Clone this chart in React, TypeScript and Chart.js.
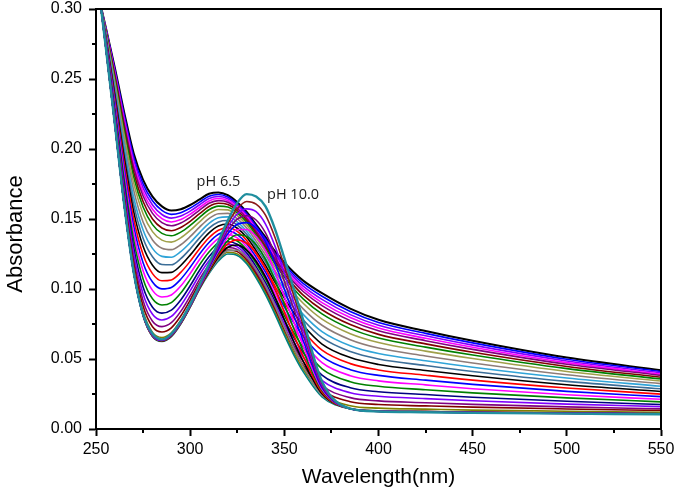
import React, { useEffect, useRef } from 'react';
import { Chart, registerables } from 'chart.js';

Chart.register(...registerables);

// Wavelength grid (nm)
const WAVELENGTH = [250, 255, 260, 265, 270, 275, 280, 285, 290, 295, 300, 305, 310, 315, 320, 325, 330, 335, 340, 345, 350, 355, 360, 370, 385, 400, 425, 450, 500, 550];

// Absorbance spectra, from pH 6.5 (first) to pH 10.0 (last)
const pH65 = [0.317, 0.288, 0.258, 0.226, 0.197, 0.178, 0.166, 0.159, 0.156, 0.157, 0.160, 0.164, 0.168, 0.169, 0.167, 0.162, 0.155, 0.146, 0.137, 0.127, 0.119, 0.112, 0.106, 0.097, 0.086, 0.078, 0.070, 0.063, 0.051, 0.042];
const s01 = [0.3174, 0.2876, 0.2568, 0.224, 0.1944, 0.1751, 0.163, 0.1561, 0.1533, 0.1545, 0.1578, 0.1621, 0.1663, 0.1675, 0.1657, 0.1609, 0.1539, 0.1449, 0.1358, 0.1256, 0.1174, 0.1102, 0.104, 0.0948, 0.0839, 0.076, 0.0683, 0.0615, 0.0498, 0.0411];
const s02 = [0.3178, 0.2872, 0.2556, 0.222, 0.1919, 0.1722, 0.160, 0.1532, 0.1506, 0.1521, 0.1556, 0.1602, 0.1646, 0.1661, 0.1645, 0.1597, 0.1528, 0.1437, 0.1345, 0.1243, 0.1159, 0.1085, 0.1021, 0.0926, 0.0817, 0.0741, 0.0666, 0.0599, 0.0486, 0.0401];
const s03 = [0.3182, 0.2868, 0.2544, 0.2201, 0.1893, 0.1693, 0.157, 0.1503, 0.1479, 0.1496, 0.1534, 0.1582, 0.1629, 0.1646, 0.1632, 0.1586, 0.1517, 0.1426, 0.1333, 0.1229, 0.1143, 0.1067, 0.1001, 0.0903, 0.0796, 0.0721, 0.0648, 0.0584, 0.0474, 0.0392];
const s04 = [0.3186, 0.2864, 0.2532, 0.2181, 0.1868, 0.1664, 0.154, 0.1474, 0.1452, 0.1472, 0.1512, 0.1563, 0.1612, 0.1631, 0.162, 0.1574, 0.1506, 0.1414, 0.1321, 0.1216, 0.1128, 0.1049, 0.0982, 0.0881, 0.0774, 0.0702, 0.0631, 0.0569, 0.0463, 0.0383];
const s05 = [0.3191, 0.2859, 0.2516, 0.2154, 0.1834, 0.1625, 0.150, 0.1436, 0.1416, 0.1439, 0.1483, 0.1538, 0.1589, 0.1612, 0.1603, 0.1559, 0.1491, 0.1399, 0.1304, 0.1198, 0.1107, 0.1026, 0.0956, 0.0852, 0.0746, 0.0676, 0.0608, 0.0548, 0.0447, 0.037];
const s06 = [0.3196, 0.2854, 0.250, 0.2128, 0.180, 0.1586, 0.146, 0.1397, 0.138, 0.1406, 0.1454, 0.1512, 0.1566, 0.1592, 0.1586, 0.1544, 0.1476, 0.1384, 0.1288, 0.118, 0.1086, 0.1002, 0.093, 0.0822, 0.0717, 0.065, 0.0585, 0.0528, 0.0431, 0.0358];
const s07 = [0.3203, 0.2848, 0.248, 0.2095, 0.1758, 0.1538, 0.141, 0.1349, 0.1335, 0.1365, 0.1418, 0.148, 0.1538, 0.1568, 0.1565, 0.1525, 0.1458, 0.1365, 0.1268, 0.1158, 0.106, 0.0973, 0.0898, 0.0785, 0.0681, 0.0618, 0.0556, 0.0503, 0.0411, 0.0343];
const s08 = [0.321, 0.284, 0.2456, 0.2055, 0.1706, 0.1479, 0.135, 0.1291, 0.1281, 0.1316, 0.1374, 0.1442, 0.1503, 0.1538, 0.154, 0.1502, 0.1435, 0.1342, 0.1243, 0.113, 0.1029, 0.0937, 0.0858, 0.0741, 0.0638, 0.0578, 0.0522, 0.0472, 0.0388, 0.0324];
const s09 = [0.3218, 0.2832, 0.2432, 0.2016, 0.1655, 0.1421, 0.129, 0.1233, 0.1227, 0.1267, 0.133, 0.1403, 0.1469, 0.1509, 0.1515, 0.1479, 0.1413, 0.1319, 0.1218, 0.1103, 0.0998, 0.0902, 0.0819, 0.0696, 0.0595, 0.0539, 0.0487, 0.0441, 0.0364, 0.0305];
const s10 = [0.3226, 0.2824, 0.2408, 0.1976, 0.1604, 0.1363, 0.123, 0.1175, 0.1173, 0.1217, 0.1286, 0.1365, 0.1435, 0.1479, 0.1489, 0.1457, 0.1391, 0.1297, 0.1194, 0.1076, 0.0966, 0.0866, 0.078, 0.0652, 0.0553, 0.050, 0.0453, 0.0411, 0.034, 0.0287];
const s11 = [0.3234, 0.2816, 0.2384, 0.1937, 0.1553, 0.1305, 0.117, 0.1117, 0.1119, 0.1168, 0.1242, 0.1326, 0.1401, 0.145, 0.1464, 0.1434, 0.1369, 0.1274, 0.1169, 0.1049, 0.0935, 0.0831, 0.0741, 0.0607, 0.051, 0.0461, 0.0418, 0.038, 0.0316, 0.0268];
const s12 = [0.3242, 0.2808, 0.236, 0.1897, 0.1502, 0.1246, 0.111, 0.1059, 0.1065, 0.1119, 0.1198, 0.1288, 0.1366, 0.142, 0.1439, 0.1411, 0.1346, 0.1251, 0.1144, 0.1022, 0.0904, 0.0795, 0.0702, 0.0563, 0.0467, 0.0422, 0.0384, 0.0349, 0.0293, 0.0249];
const s13 = [0.3249, 0.2801, 0.2336, 0.1857, 0.1451, 0.1188, 0.105, 0.1001, 0.1011, 0.107, 0.1155, 0.125, 0.1332, 0.1391, 0.1414, 0.1388, 0.1324, 0.1228, 0.112, 0.0995, 0.0873, 0.076, 0.0663, 0.0519, 0.0424, 0.0383, 0.0349, 0.0319, 0.0269, 0.0231];
const s14 = [0.3257, 0.2793, 0.2312, 0.1818, 0.140, 0.113, 0.099, 0.0943, 0.0957, 0.1021, 0.1111, 0.1211, 0.1298, 0.1362, 0.1389, 0.1365, 0.1302, 0.1205, 0.1095, 0.0968, 0.0842, 0.0725, 0.0624, 0.0474, 0.0381, 0.0344, 0.0315, 0.0288, 0.0245, 0.0212];
const s15 = [0.3265, 0.2785, 0.2288, 0.1778, 0.1349, 0.1072, 0.093, 0.0886, 0.0903, 0.0971, 0.1067, 0.1173, 0.1264, 0.1332, 0.1363, 0.1343, 0.128, 0.1183, 0.1071, 0.0941, 0.081, 0.0689, 0.0585, 0.043, 0.0338, 0.0305, 0.028, 0.0258, 0.0222, 0.0194];
const s16 = [0.3273, 0.2777, 0.2264, 0.1739, 0.1298, 0.1014, 0.087, 0.0828, 0.0849, 0.0922, 0.1023, 0.1134, 0.123, 0.1303, 0.1338, 0.132, 0.1258, 0.116, 0.1046, 0.0914, 0.0779, 0.0654, 0.0546, 0.0385, 0.0295, 0.0266, 0.0246, 0.0227, 0.0198, 0.0175];
const s17 = [0.3279, 0.2771, 0.2244, 0.1706, 0.1256, 0.0965, 0.082, 0.0779, 0.0804, 0.0881, 0.0987, 0.1102, 0.1201, 0.1278, 0.1317, 0.1301, 0.1239, 0.1141, 0.1026, 0.0892, 0.0753, 0.0624, 0.0514, 0.0348, 0.0259, 0.0234, 0.0217, 0.0202, 0.0178, 0.016];
const s18 = [0.3286, 0.2764, 0.2224, 0.1673, 0.1213, 0.0917, 0.077, 0.0731, 0.0759, 0.084, 0.095, 0.107, 0.1173, 0.1254, 0.1296, 0.1282, 0.1221, 0.1122, 0.1005, 0.0869, 0.0727, 0.0595, 0.0481, 0.0311, 0.0224, 0.0201, 0.0188, 0.0176, 0.0158, 0.0144];
const s19 = [0.3291, 0.2759, 0.2208, 0.1646, 0.1179, 0.0878, 0.073, 0.0693, 0.0723, 0.0807, 0.0921, 0.1045, 0.115, 0.1234, 0.1279, 0.1267, 0.1206, 0.1107, 0.0989, 0.0851, 0.0706, 0.0571, 0.0455, 0.0282, 0.0195, 0.0175, 0.0165, 0.0156, 0.0143, 0.0132];
const s20 = [0.3296, 0.2754, 0.2192, 0.162, 0.1145, 0.0839, 0.069, 0.0654, 0.0687, 0.0775, 0.0892, 0.1019, 0.1127, 0.1215, 0.1263, 0.1251, 0.1191, 0.1091, 0.0972, 0.0833, 0.0686, 0.0548, 0.0429, 0.0252, 0.0166, 0.0149, 0.0142, 0.0135, 0.0127, 0.0119];
const s21 = [0.330, 0.275, 0.218, 0.160, 0.112, 0.081, 0.066, 0.0625, 0.066, 0.075, 0.087, 0.100, 0.111, 0.120, 0.125, 0.124, 0.118, 0.108, 0.096, 0.082, 0.067, 0.053, 0.041, 0.023, 0.0145, 0.013, 0.0125, 0.012, 0.0115, 0.011];
const s22 = [0.330, 0.275, 0.218, 0.160, 0.112, 0.0811, 0.0662, 0.0627, 0.0662, 0.0752, 0.0872, 0.1003, 0.1117, 0.1214, 0.1274, 0.1277, 0.1229, 0.1139, 0.1023, 0.0881, 0.0725, 0.0577, 0.0447, 0.0241, 0.0145, 0.0129, 0.0124, 0.0119, 0.0114, 0.0109];
const s23 = [0.330, 0.275, 0.218, 0.160, 0.112, 0.0812, 0.0664, 0.0628, 0.0664, 0.0754, 0.0874, 0.1006, 0.1124, 0.1228, 0.1298, 0.1314, 0.1278, 0.1198, 0.1086, 0.0942, 0.078, 0.0624, 0.0484, 0.0252, 0.0145, 0.0129, 0.0124, 0.0119, 0.0114, 0.0109];
const s24 = [0.330, 0.275, 0.218, 0.160, 0.112, 0.0813, 0.0666, 0.063, 0.0666, 0.0756, 0.0876, 0.1009, 0.1131, 0.1242, 0.1322, 0.1351, 0.1327, 0.1257, 0.1149, 0.1003, 0.0835, 0.0671, 0.0521, 0.0263, 0.0145, 0.0129, 0.0124, 0.0119, 0.0114, 0.0109];
const s25 = [0.330, 0.275, 0.218, 0.160, 0.112, 0.0814, 0.0668, 0.0631, 0.0668, 0.0758, 0.0878, 0.1012, 0.1138, 0.1256, 0.1346, 0.1388, 0.1376, 0.1316, 0.1212, 0.1064, 0.089, 0.0718, 0.0558, 0.0274, 0.0145, 0.0128, 0.0123, 0.0118, 0.0113, 0.0108];
const s26 = [0.330, 0.275, 0.218, 0.160, 0.112, 0.0815, 0.067, 0.0633, 0.067, 0.076, 0.088, 0.1015, 0.1145, 0.127, 0.137, 0.1425, 0.1425, 0.1375, 0.1275, 0.1125, 0.0945, 0.0765, 0.0595, 0.0285, 0.0145, 0.0128, 0.0123, 0.0118, 0.0113, 0.0108];
const s27 = [0.330, 0.275, 0.218, 0.160, 0.112, 0.0816, 0.0672, 0.0634, 0.0672, 0.0762, 0.0882, 0.1018, 0.1152, 0.1284, 0.1394, 0.1462, 0.1474, 0.1434, 0.1338, 0.1186, 0.100, 0.0812, 0.0632, 0.0296, 0.0145, 0.0127, 0.0122, 0.0117, 0.0112, 0.0107];
const s28 = [0.330, 0.275, 0.218, 0.160, 0.112, 0.0817, 0.0674, 0.0636, 0.0674, 0.0764, 0.0884, 0.1021, 0.1159, 0.1298, 0.1418, 0.1499, 0.1523, 0.1493, 0.1401, 0.1247, 0.1055, 0.0859, 0.0669, 0.0307, 0.0145, 0.0127, 0.0122, 0.0117, 0.0112, 0.0107];
const s29 = [0.330, 0.275, 0.218, 0.160, 0.112, 0.0818, 0.0676, 0.0637, 0.0676, 0.0766, 0.0886, 0.1024, 0.1166, 0.1312, 0.1442, 0.1536, 0.1572, 0.1552, 0.1464, 0.1308, 0.111, 0.0906, 0.0706, 0.0318, 0.0145, 0.0126, 0.0121, 0.0116, 0.0111, 0.0106];
const s30 = [0.330, 0.275, 0.218, 0.160, 0.112, 0.0819, 0.0678, 0.0639, 0.0678, 0.0768, 0.0888, 0.1027, 0.1173, 0.1326, 0.1466, 0.1573, 0.1625, 0.1606, 0.1527, 0.1369, 0.1165, 0.0953, 0.0743, 0.0329, 0.0145, 0.0126, 0.0121, 0.0116, 0.0111, 0.0106];
const pH100 = [0.330, 0.275, 0.218, 0.160, 0.112, 0.082, 0.068, 0.064, 0.068, 0.077, 0.089, 0.103, 0.118, 0.134, 0.149, 0.1615, 0.1678, 0.166, 0.159, 0.143, 0.122, 0.100, 0.078, 0.034, 0.0145, 0.0125, 0.012, 0.0115, 0.011, 0.0105];

const SERIES = [pH65, s01, s02, s03, s04, s05, s06, s07, s08, s09, s10, s11, s12, s13, s14, s15, s16, s17, s18, s19, s20, s21, s22, s23, s24, s25, s26, s27, s28, s29, s30, pH100];

const COLORS = [
  '#000000', '#0000ff', '#8000ff', '#ff00ff', '#800080', '#800000', '#008000', '#a0a04a',
  '#8e7c78', '#30a4d8', '#3c6e98', '#000000', '#ff0000', '#0000ff', '#ff00ff', '#008000',
  '#000080', '#8000ff', '#800080', '#800000', '#808000', '#008080', '#808080', '#000000',
  '#ff0000', '#008000', '#ff00ff', '#0000ff', '#800080', '#8000ff', '#8b1a1a', '#1f8e9e',
];

const X_TICKS_MINOR = [275, 325, 375, 425, 475, 525];
const Y_TICKS_MINOR = [0.025, 0.075, 0.125, 0.175, 0.225, 0.275];

const LABELS = [
  { text: 'pH 6.5', x: 315, y: 0.1768 },
  { text: 'pH 10.0', x: 340.8, y: 0.167 },
];

const Y_TITLE = 'Absorbance';
const X_TITLE = 'Wavelength(nm)';

const FONT = "'Liberation Sans', Arial, sans-serif";

const framePlugin = {
  id: 'frame',
  afterDraw(chart: any) {
    const { ctx, chartArea, scales } = chart;
    const { left, right, top, bottom } = chartArea;
    const x = scales.x;
    const y = scales.y;
    ctx.save();
    ctx.strokeStyle = '#000';
    ctx.lineWidth = 2;
    ctx.beginPath();
    ctx.moveTo(left - 1, top);
    ctx.lineTo(right, top);
    ctx.lineTo(right, bottom + 1);
    ctx.stroke();
    ctx.beginPath();
    for (const v of X_TICKS_MINOR) {
      const px = Math.round(x.getPixelForValue(v));
      ctx.moveTo(px, bottom);
      ctx.lineTo(px, bottom + 4);
    }
    for (const v of Y_TICKS_MINOR) {
      const py = Math.round(y.getPixelForValue(v));
      ctx.moveTo(left, py);
      ctx.lineTo(left - 4, py);
    }
    ctx.stroke();

    // curve labels
    ctx.fillStyle = '#1a1a1a';
    ctx.font = "14.5px 'Open Sans', 'Noto Sans', sans-serif";
    ctx.textBaseline = 'middle';
    const first = LABELS[0];
    ctx.textAlign = 'center';
    ctx.fillText(first.text, x.getPixelForValue(first.x), y.getPixelForValue(first.y));
    const second = LABELS[1];
    ctx.textAlign = 'left';
    ctx.fillText(second.text, x.getPixelForValue(second.x), y.getPixelForValue(second.y));

    // y-axis title
    ctx.save();
    ctx.translate(16, (top + bottom) / 2 + 15);
    ctx.rotate(-Math.PI / 2);
    ctx.fillStyle = '#000';
    ctx.font = `22px ${FONT}`;
    ctx.textAlign = 'center';
    ctx.textBaseline = 'middle';
    ctx.fillText(Y_TITLE, 0, 0);
    ctx.restore();
    ctx.restore();
  },
};

export default function App() {
  const ref = useRef<HTMLCanvasElement>(null);
  useEffect(() => {
    if (!ref.current) return;
    const last = SERIES.length - 1;
    const datasets = SERIES.map((vals, i) => ({
      label: i === 0 ? 'pH 6.5' : i === last ? 'pH 10.0' : 'pH ' + i,
      data: WAVELENGTH.map((w, j) => ({ x: w, y: vals[j] })),
      borderColor: COLORS[i],
      borderWidth: i === last ? 2.4 : i === 0 ? 2 : 1.6,
      pointRadius: 0,
      fill: false,
      cubicInterpolationMode: 'monotone' as const,
      clip: 0,
      order: last - i,
    }));
    const chart = new Chart(ref.current, {
      type: 'line',
      data: { datasets },
      options: {
        animation: false,
        responsive: false,
        devicePixelRatio: 1,
        layout: { padding: { top: 9, right: 14, left: 0, bottom: 0 } },
        plugins: { legend: { display: false }, tooltip: { enabled: false } },
        scales: {
          x: {
            type: 'linear',
            min: 250,
            max: 550,
            ticks: { stepSize: 50, color: '#000', font: { family: FONT, size: 16 }, padding: 4, maxRotation: 0 },
            grid: { drawOnChartArea: false, drawTicks: true, tickLength: 7, tickWidth: 2, tickColor: '#000' },
            border: { display: true, color: '#000', width: 2 },
            title: { display: true, text: X_TITLE, color: '#000', font: { family: FONT, size: 21 }, padding: { top: 0, bottom: 7 } },
            afterFit: (s: any) => { s.height = 68; s.paddingLeft = 0; s.paddingRight = 0; },
          },
          y: {
            type: 'linear',
            min: 0,
            max: 0.3,
            ticks: { stepSize: 0.05, color: '#000', font: { family: FONT, size: 16 }, padding: 7, callback: (v: any) => Number(v).toFixed(2) },
            grid: { drawOnChartArea: false, drawTicks: true, tickLength: 7, tickWidth: 2, tickColor: '#000' },
            border: { display: true, color: '#000', width: 2 },
            title: { display: false, text: Y_TITLE },
            afterFit: (s: any) => { s.width = 96; s.paddingTop = 0; s.paddingBottom = 0; },
          },
        },
      },
      plugins: [framePlugin],
    });
    return () => chart.destroy();
  }, []);
  return (
    <div style={{ position: 'fixed', left: 0, top: 0, width: 675, height: 497, background: '#fff' }}>
      <canvas ref={ref} width={675} height={497} style={{ display: 'block', width: 675, height: 497 }} />
    </div>
  );
}
